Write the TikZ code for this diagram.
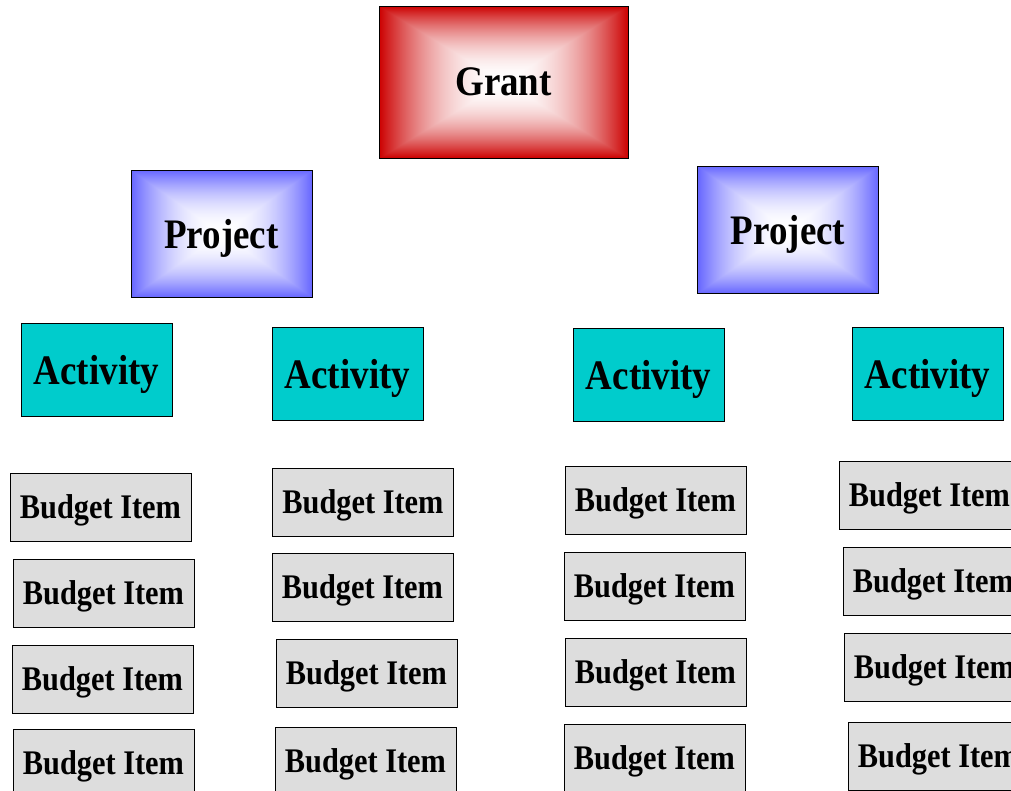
\documentclass[tikz,border=0pt]{standalone}
\usepackage{fontspec}
\setmainfont{Liberation Serif}[FakeStretch=0.88]

% box gradients: white centre fading to the edge colour
\pgfdeclarefunctionalshading{grantfade}{\pgfpoint{-25bp}{-25bp}}{\pgfpoint{25bp}{25bp}}{}{
  abs exch abs 2 copy lt {exch} if pop 25 div dup mul
  dup 0.2 mul 1 exch sub exch 1 exch sub dup}
\pgfdeclarefunctionalshading{projectfade}{\pgfpoint{-25bp}{-25bp}}{\pgfpoint{25bp}{25bp}}{}{
  abs exch abs 2 copy lt {exch} if pop 25 div dup mul
  0.6 mul 1 exch sub dup 1}

\definecolor{activitycyan}{HTML}{00CCCC}
\definecolor{itemgray}{HTML}{DDDDDD}

\begin{document}
\begin{tikzpicture}[
    x=1pt, y=-1pt,
    box/.style={
        draw, line width=0.8pt, inner sep=0pt, text depth=0pt,
        font=\fontsize{42}{42}\selectfont\bfseries
    },
    grantbox/.style={box, shade, shading=grantfade,
        minimum width=249pt, minimum height=152pt},
    projectbox/.style={box, shade, shading=projectfade,
        minimum width=181pt, minimum height=127pt},
    activitybox/.style={box, fill=activitycyan,
        minimum width=151pt, minimum height=93pt},
    itembox/.style={box, fill=itemgray,
        minimum width=181pt, minimum height=68pt,
        font=\fontsize{34.5}{34.5}\selectfont\bfseries}
    ]

    \useasboundingbox (0,0) rectangle (1011,790);
    \clip (0,0) rectangle (1011,790);

    \node[grantbox] (grant) at (503.5,82) {Grant};

    \node[projectbox] (projL) at (221.5,233.5) {Project};
    \node[projectbox] (projR) at (788,229.5) {Project};

    \node[activitybox] (act1) at (96.5,369.5) {Activity};
    \node[activitybox] (act2) at (347.5,373.5) {Activity};
    \node[activitybox] (act3) at (648.5,374.5) {Activity};
    \node[activitybox] (act4) at (927.5,373.5) {Activity};

    % budget items, column by column
    \foreach \c/\pts in {1/{100.5/507,103.5/593,102.5/679,103.5/763},
                         2/{363/502,362.5/587,366.5/673,365.5/761},
                         3/{655.5/500,654.5/586,655.5/672,654.5/758},
                         4/{929.5/495,933.5/581,934.5/667,938.5/756}}
    {
        \foreach \px/\py [count=\r] in \pts
            \node[itembox] (item-\c-\r) at (\px,\py) {Budget Item};
    }
\end{tikzpicture}
\end{document}
